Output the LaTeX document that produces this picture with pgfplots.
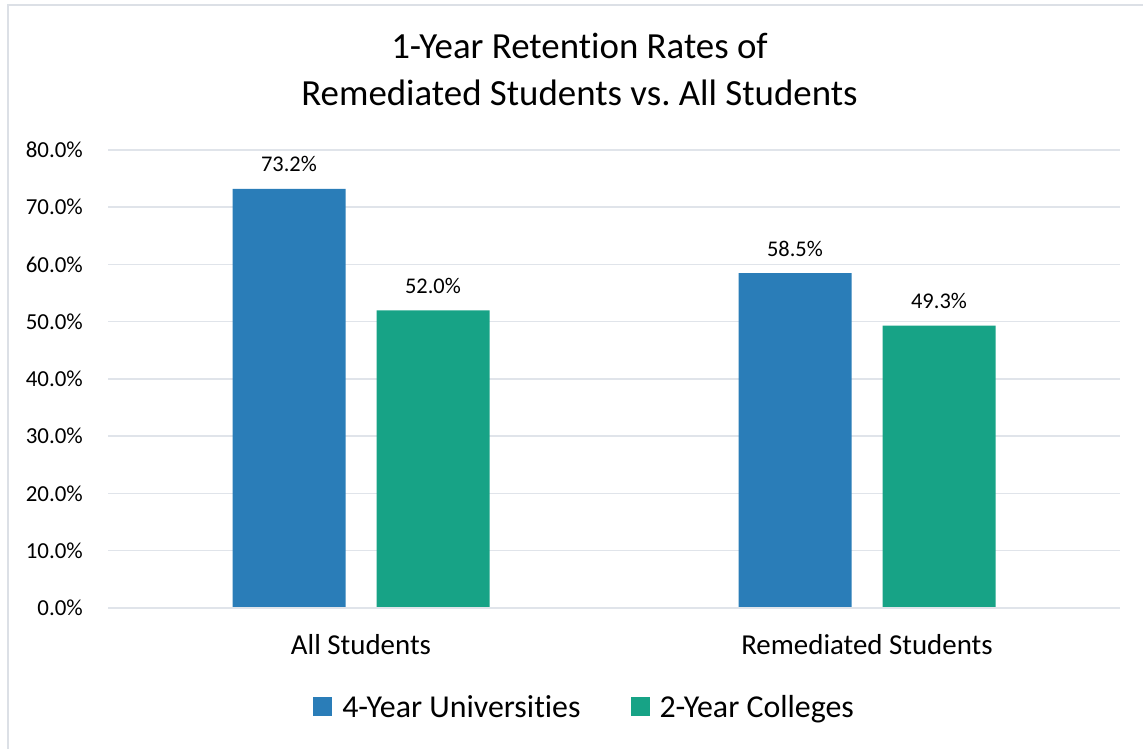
\documentclass[border=0pt]{standalone}
\usepackage{pgfplots}
\pgfplotsset{compat=1.18}
\usepackage{fontspec}
\setmainfont{Carlito}[Ligatures={NoCommon,NoRare,NoContextual}, RawFeature={-liga;-clig;-dlig;-calt}]
\frenchspacing
\definecolor{cblue}{HTML}{2A7DB8}
\definecolor{cgreen}{HTML}{17A386}
\definecolor{cgrid}{HTML}{E0E4EA}
\definecolor{cframe}{HTML}{DCE0E6}
\begin{document}
\begin{tikzpicture}[x=1bp,y=1bp]
\useasboundingbox (0,0) rectangle (1143,749);
\fill[white] (0,0) rectangle (1143,749);
\draw[cframe, line width=2bp] (8,-20) -- (8,744) -- (1160,744);
\node[font=\fontsize{37}{44}\selectfont, anchor=base] at (579.5,749-59) {1-Year Retention Rates of};
\node[font=\fontsize{37}{44}\selectfont, anchor=base] at (579.5,749-106) {Remediated Students vs.\ All Students};
\begin{axis}[
  at={(108bp,141bp)}, anchor=south west,
  scale only axis, width=1012bp, height=458bp,
  xmin=-0.5, xmax=1.5, ymin=0, ymax=80,
  ybar=31bp, bar width=113bp,
  xtick={0,1}, xticklabels={All Students, Remediated Students},
  ytick={0,10,...,80},
  yticklabel={\pgfmathprintnumber[fixed,fixed zerofill,precision=1]{\tick}\%},
  /pgf/number format/assume math mode=true,
  axis line style={draw=none},
  axis x line*=bottom, axis y line*=left,
  major tick length=0pt,
  ymajorgrids, grid style={cgrid, line width=1.5bp},
  yticklabel style={font=\fontsize{23}{27}\selectfont, anchor=east, inner sep=0pt, xshift=-25bp},
  xticklabel style={font=\fontsize{29}{34}\selectfont, anchor=base, inner sep=0pt, yshift=-47bp},
  nodes near coords={\pgfmathprintnumber[fixed,fixed zerofill,precision=1]{\pgfplotspointmeta}\%},
  every node near coord/.append style={font=\fontsize{22.5}{27}\selectfont, anchor=base, inner sep=0pt, yshift=17bp, black},
  legend columns=2,
  legend style={draw=none, fill=none, at={(0.471,-0.216)}, anchor=center,
    font=\fontsize{32}{36}\selectfont,
    /tikz/every odd column/.append style={column sep=8bp},
    /tikz/every even column/.append style={column sep=48bp}},
  legend image code/.code={\fill[#1, draw=none] (0bp,-9.5bp) rectangle (19bp,9.5bp);},
  clip=false,
]
\addplot[fill=cblue, draw=none] coordinates {(0,73.2) (1,58.5)};
\addplot[fill=cgreen, draw=none] coordinates {(0,52.0) (1,49.3)};
\draw[cgrid, line width=1.5bp] (axis cs:-0.5,0) -- (axis cs:1.5,0);
\legend{4-Year Universities, 2-Year Colleges}
\end{axis}
\end{tikzpicture}
\end{document}
